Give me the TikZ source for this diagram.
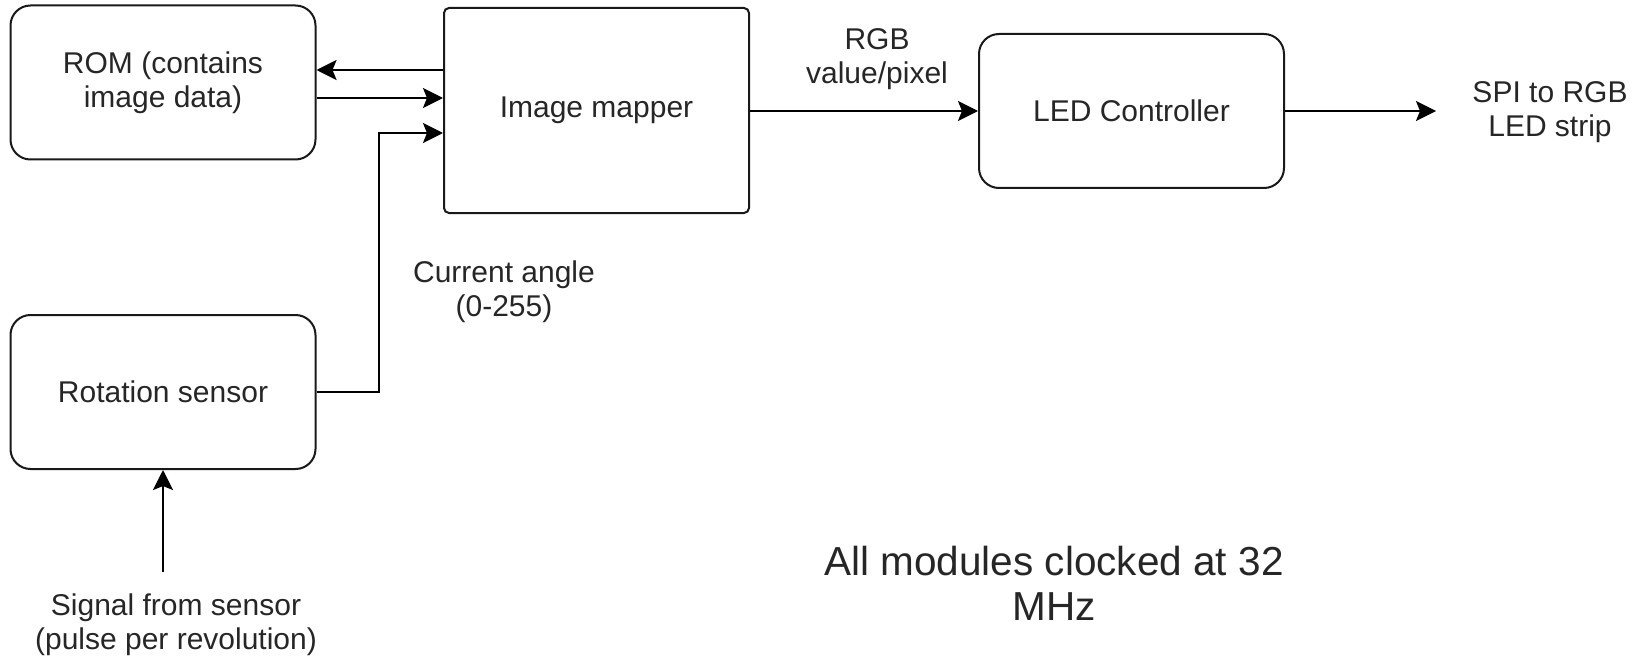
\documentclass[tikz,border=0pt]{standalone}
\usepackage{fontspec}
\setmainfont{Liberation Sans}
\usetikzlibrary{arrows.meta}
\begin{document}
\begin{tikzpicture}[x=1pt,y=-1pt,
  box/.style={draw=black!90, line width=2pt, rounded corners=20pt, minimum width=305pt, minimum height=154pt, inner sep=0pt, text=black!85, align=center, font=\fontsize{30}{33.6}\selectfont},
  lbl/.style={text=black!85, align=center, inner sep=0pt, font=\fontsize{30}{33.6}\selectfont},
  conn/.style={draw=black, line width=2.4pt, -{Stealth[length=20pt,width=20pt,inset=4pt]}}
]
\useasboundingbox (0,0) rectangle (1645,663);
\node[box] (rom) at (163,82.5) {ROM (contains\\image data)};
\node[box, rounded corners=5pt, minimum height=205pt] (map) at (596.5,110.5) {Image mapper};
\node[box] (led) at (1131.5,111) {LED Controller};
\node[box] (rot) at (163,392) {Rotation sensor};
\node[lbl] (rgb) at (877,59) {RGB\\value/pixel};
\node[lbl] (spi) at (1550,112) {SPI to RGB\\LED strip};
\node[lbl] (ang) at (504,292) {Current angle\\(0-255)};
\node[lbl] (sig) at (176,625) {Signal from sensor\\(pulse per revolution)};
\node[lbl, font=\fontsize{40.5}{45}\selectfont] (all) at (1054,583.5) {All modules clocked at 32\\MHz};
\coordinate (spiend) at (1436,111);
\coordinate (sigstart) at (163,572);
\coordinate (bend) at (379,392);
\draw[conn] (map.west |- 0,70) -- (rom.east |- 0,70);
\draw[conn] (rom.east |- 0,98) -- (map.west |- 0,98);
\draw[conn] (rot.east) -- (bend) -- (bend |- 0,133) -- (map.west |- 0,133);
\draw[conn] (map.east |- led.west) -- (led.west);
\draw[conn] (led.east) -- (spiend);
\draw[conn] (sigstart) -- (rot.south -| sigstart);
\end{tikzpicture}
\end{document}
